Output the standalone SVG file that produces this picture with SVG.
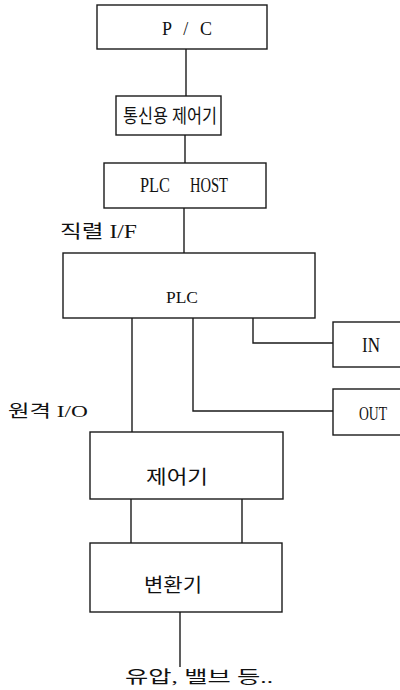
<svg xmlns="http://www.w3.org/2000/svg" width="400" height="690" viewBox="0 0 400 690">
<style>
.box{fill:none;stroke:#1a1a1a;stroke-width:1.4}
.ln{fill:none;stroke:#1a1a1a;stroke-width:1.4}
text{font-family:"Liberation Serif","Noto Sans CJK KR",serif;fill:#111}
</style>
<rect width="400" height="690" fill="#fff"/>
<g id="connectors">
<line class="ln" x1="186" y1="49" x2="186" y2="96"/>
<line class="ln" x1="185" y1="135" x2="185" y2="163"/>
<line class="ln" x1="184" y1="208" x2="184" y2="253"/>
<line class="ln" x1="132" y1="318" x2="132" y2="432"/>
<polyline class="ln" points="193,318 193,411 333,411"/>
<polyline class="ln" points="253,318 253,343 333,343"/>
<line class="ln" x1="131" y1="499" x2="131" y2="543"/>
<line class="ln" x1="242" y1="499" x2="242" y2="543"/>
<line class="ln" x1="180" y1="612" x2="180" y2="667"/>
</g>
<g id="pc">
<rect class="box" x="97" y="5" width="170" height="44"/>
<text x="162" y="35" font-size="18" textLength="50" lengthAdjust="spacing">P / C</text>
</g>
<g id="comm">
<rect class="box" x="116" y="96" width="105" height="39"/>
<text x="123" y="123" font-size="19" textLength="94" lengthAdjust="spacingAndGlyphs">통신용 제어기</text>
</g>
<g id="plchost">
<rect class="box" x="104" y="163" width="162" height="45"/>
<text x="140" y="192" font-size="20" textLength="30" lengthAdjust="spacingAndGlyphs">PLC</text>
<text x="190" y="192" font-size="20" textLength="38" lengthAdjust="spacingAndGlyphs">HOST</text>
</g>
<g id="serial">
<text x="60" y="238" font-size="18" textLength="77" lengthAdjust="spacingAndGlyphs">직렬 I/F</text>
</g>
<g id="plc">
<rect class="box" x="63" y="253" width="252" height="65"/>
<text x="166" y="303" font-size="17" textLength="32" lengthAdjust="spacingAndGlyphs">PLC</text>
</g>
<g id="in">
<rect class="box" x="333" y="322" width="80" height="45"/>
<text x="362" y="352" font-size="20" textLength="18" lengthAdjust="spacingAndGlyphs">IN</text>
</g>
<g id="out">
<rect class="box" x="333" y="389" width="80" height="46"/>
<text x="359" y="420" font-size="19" textLength="28" lengthAdjust="spacingAndGlyphs">OUT</text>
</g>
<g id="remote">
<text x="8" y="417" font-size="17" textLength="80" lengthAdjust="spacingAndGlyphs">원격 I/O</text>
</g>
<g id="controller">
<rect class="box" x="90" y="432" width="193" height="67"/>
<text x="146" y="484" font-size="19" textLength="62" lengthAdjust="spacingAndGlyphs">제어기</text>
</g>
<g id="converter">
<rect class="box" x="90" y="543" width="192" height="69"/>
<text x="144" y="592" font-size="19" textLength="58" lengthAdjust="spacingAndGlyphs">변환기</text>
</g>
<g id="bottom">
<text x="125" y="683" font-size="17" textLength="148" lengthAdjust="spacingAndGlyphs">유압, 밸브 등..</text>
</g>
</svg>
